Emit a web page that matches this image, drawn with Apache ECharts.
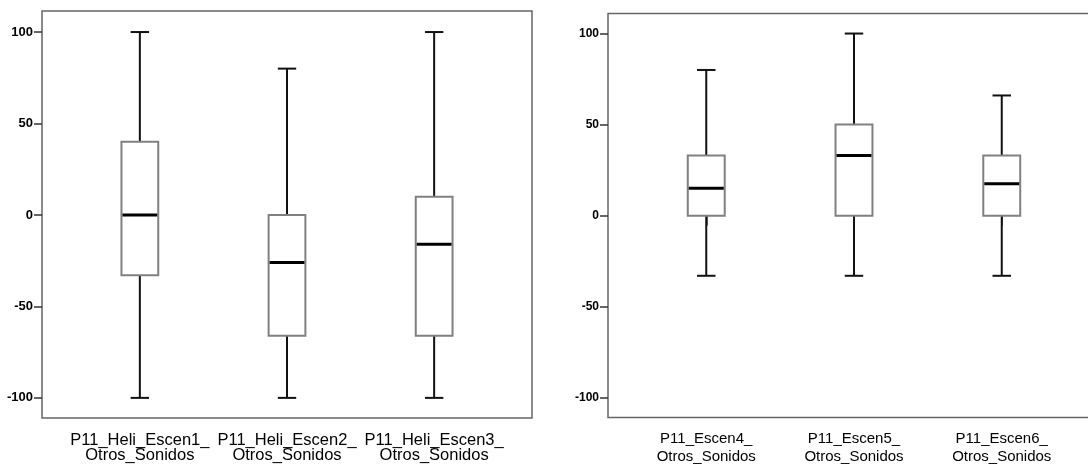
<!DOCTYPE html>
<html>
<head>
<meta charset="utf-8">
<style>
  html, body { margin: 0; padding: 0; background: #fff; }
  #chart { width: 1088px; height: 466px; }
</style>
<script src="https://cdn.jsdelivr.net/npm/echarts@6/dist/echarts.min.js"></script>
</head>
<body>
<div id="chart"></div>
<script>
// categories of each panel
const leftCategories = ['P11_Heli_Escen1_\nOtros_Sonidos', 'P11_Heli_Escen2_\nOtros_Sonidos', 'P11_Heli_Escen3_\nOtros_Sonidos']
const rightCategories = ['P11_Escen4_\nOtros_Sonidos', 'P11_Escen5_\nOtros_Sonidos', 'P11_Escen6_\nOtros_Sonidos']

// five number summary: [min, q1, median, q3, max]
const leftStats = [
  [-100, -33, 0, 40, 100],
  [-100, -66, -26, 0, 80],
  [-100, -66, -16, 10, 100]
]
const rightStats = [
  [-33, 0, 15, 33, 80],
  [-33, 0, 33, 50, 100],
  [-33, 0, 17.5, 33, 66]
]

const yTicks = [-100, -50, 0, 50, 100]
const xPositions = [1, 2, 3]

const frameColor = '#666'

function toRows(stats) {
  return stats.map((s, i) => [xPositions[i]].concat(s))
}

function renderBox(params, api) {
  const x = api.value(0)
  const lo = api.coord([x, api.value(1)])
  const q1 = api.coord([x, api.value(2)])
  const med = api.coord([x, api.value(3)])
  const q3 = api.coord([x, api.value(4)])
  const hi = api.coord([x, api.value(5)])
  const w = api.size([0.25, 0])[0]
  const cx = lo[0]
  const whisker = { stroke: '#111', lineWidth: 2 }
  return {
    type: 'group',
    children: [
      { type: 'line', shape: { x1: cx, y1: q3[1], x2: cx, y2: hi[1] }, style: whisker },
      { type: 'line', shape: { x1: cx, y1: q1[1], x2: cx, y2: lo[1] }, style: whisker },
      { type: 'line', shape: { x1: cx - w / 4, y1: hi[1], x2: cx + w / 4, y2: hi[1] }, style: whisker },
      { type: 'line', shape: { x1: cx - w / 4, y1: lo[1], x2: cx + w / 4, y2: lo[1] }, style: whisker },
      {
        type: 'rect',
        shape: { x: cx - w / 2, y: q3[1], width: w, height: q1[1] - q3[1] },
        style: { fill: '#fff', stroke: '#808080', lineWidth: 2 }
      },
      { type: 'line', shape: { x1: cx - w / 2 + 1, y1: med[1], x2: cx + w / 2 - 1, y2: med[1] }, style: { stroke: '#000', lineWidth: 3 } }
    ]
  }
}

function makeY(idx, min, max, fontSize) {
  return {
    gridIndex: idx,
    type: 'value',
    min: min,
    max: max,
    splitLine: { show: false },
    axisLine: { show: false },
    axisTick: { show: true, length: 8, customValues: yTicks, lineStyle: { color: '#333', width: 1.5 } },
    axisLabel: {
      customValues: yTicks,
      margin: 9,
      color: '#000',
      fontWeight: 'bold',
      fontSize: fontSize,
      fontFamily: 'Liberation Sans'
    }
  }
}

function makeX(idx, cats, fontSize, lineHeight, margin) {
  return {
    gridIndex: idx,
    type: 'value',
    min: 0.335,
    max: 3.665,
    splitLine: { show: false },
    axisLine: { show: false },
    axisTick: { show: true, length: 10, customValues: xPositions, lineStyle: { color: '#333', width: 1.5 } },
    axisLabel: {
      customValues: xPositions,
      formatter: (v) => cats[Math.round(v) - 1] || '',
      margin: margin,
      color: '#000',
      fontSize: fontSize,
      lineHeight: lineHeight,
      fontFamily: 'Liberation Sans'
    }
  }
}

const chart = echarts.init(document.getElementById('chart'), null, { renderer: 'canvas' })
chart.setOption({
  backgroundColor: '#fff',
  animation: false,
  grid: [
    { left: 42, top: 11, width: 490, height: 407, show: true, borderColor: frameColor, borderWidth: 1.5, outerBoundsMode: 'none' },
    { left: 608, top: 13.5, width: 492, height: 404, show: true, borderColor: frameColor, borderWidth: 1.5, outerBoundsMode: 'none' }
  ],
  xAxis: [
    makeX(0, leftCategories, 16.5, 15, 15),
    makeX(1, rightCategories, 15, 18, 12)
  ],
  yAxis: [
    makeY(0, -111, 111.5, 13),
    makeY(1, -110.8, 111, 12)
  ],
  series: [
    {
      type: 'custom',
      xAxisIndex: 0,
      yAxisIndex: 0,
      renderItem: renderBox,
      encode: { x: 0, y: [1, 2, 3, 4, 5] },
      data: toRows(leftStats)
    },
    {
      type: 'custom',
      xAxisIndex: 1,
      yAxisIndex: 1,
      renderItem: renderBox,
      encode: { x: 0, y: [1, 2, 3, 4, 5] },
      data: toRows(rightStats)
    }
  ]
})
</script>
</body>
</html>
